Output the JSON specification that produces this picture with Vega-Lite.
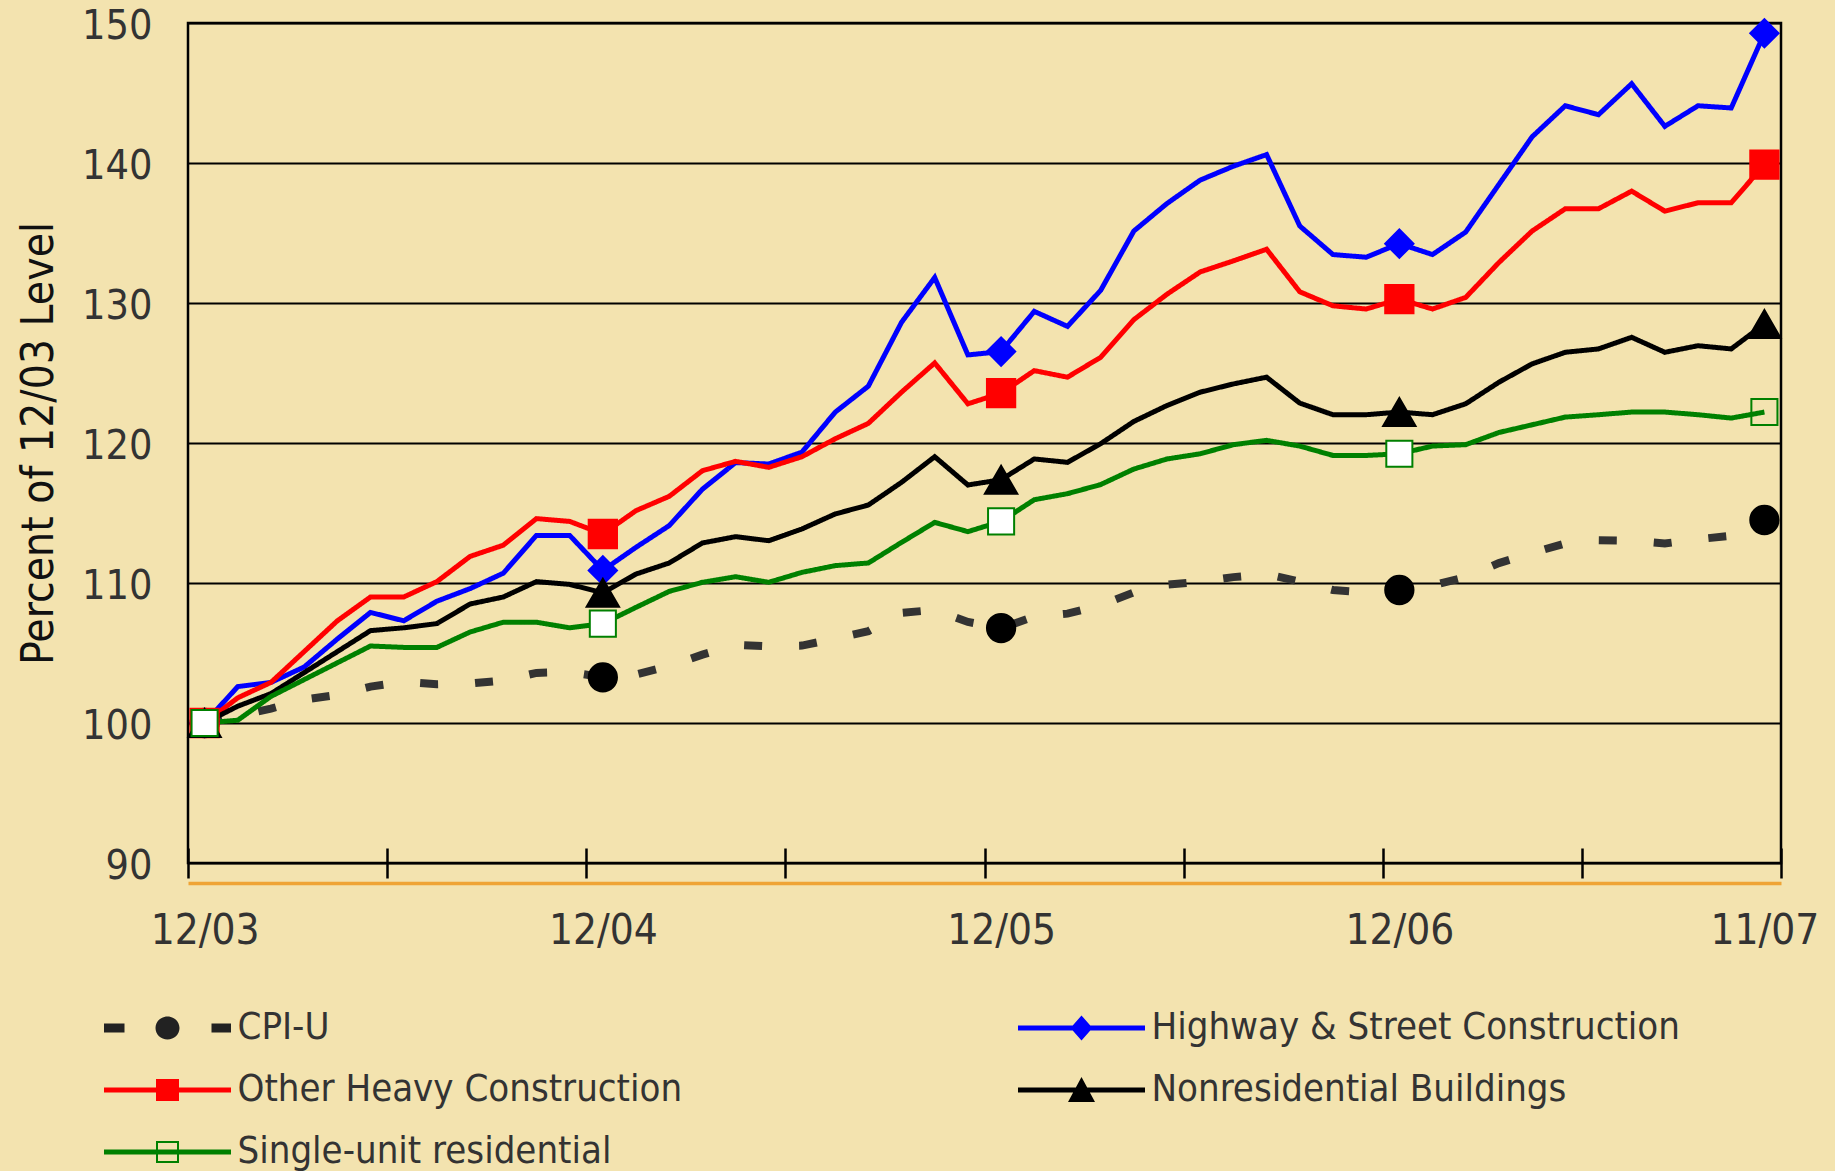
{
  "$schema": "https://vega.github.io/schema/vega-lite/v6.json",
  "width": 1593,
  "height": 840,
  "autosize": "none",
  "padding": {"left": 188, "top": 23, "right": 54, "bottom": 308},
  "background": "#F3E3AF",
  "config": {
    "font": "DejaVu Sans Condensed, Liberation Sans, sans-serif",
    "view": {"stroke": "#000000", "strokeWidth": 2.5}
  },
  "data": {"values": [
    {"series":"CPI-U","i":0,"value":100},{"series":"CPI-U","i":1,"value":100.49},{"series":"CPI-U","i":2,"value":101.03},{"series":"CPI-U","i":3,"value":101.68},{"series":"CPI-U","i":4,"value":102.01},{"series":"CPI-U","i":5,"value":102.6},{"series":"CPI-U","i":6,"value":102.93},{"series":"CPI-U","i":7,"value":102.77},{"series":"CPI-U","i":8,"value":102.82},{"series":"CPI-U","i":9,"value":103.04},{"series":"CPI-U","i":10,"value":103.58},{"series":"CPI-U","i":11,"value":103.64},
    {"series":"CPI-U","i":12,"value":103.26},{"series":"CPI-U","i":13,"value":103.47},{"series":"CPI-U","i":14,"value":104.07},{"series":"CPI-U","i":15,"value":104.88},{"series":"CPI-U","i":16,"value":105.59},{"series":"CPI-U","i":17,"value":105.48},{"series":"CPI-U","i":18,"value":105.53},{"series":"CPI-U","i":19,"value":106.02},{"series":"CPI-U","i":20,"value":106.56},{"series":"CPI-U","i":21,"value":107.87},{"series":"CPI-U","i":22,"value":108.08},{"series":"CPI-U","i":23,"value":107.22},
    {"series":"CPI-U","i":24,"value":106.78},{"series":"CPI-U","i":25,"value":107.6},{"series":"CPI-U","i":26,"value":107.81},{"series":"CPI-U","i":27,"value":108.41},{"series":"CPI-U","i":28,"value":109.33},{"series":"CPI-U","i":29,"value":109.88},{"series":"CPI-U","i":30,"value":110.09},{"series":"CPI-U","i":31,"value":110.42},{"series":"CPI-U","i":32,"value":110.63},{"series":"CPI-U","i":33,"value":110.09},{"series":"CPI-U","i":34,"value":109.5},{"series":"CPI-U","i":35,"value":109.33},
    {"series":"CPI-U","i":36,"value":109.5},{"series":"CPI-U","i":37,"value":109.83},{"series":"CPI-U","i":38,"value":110.42},{"series":"CPI-U","i":39,"value":111.42},{"series":"CPI-U","i":40,"value":112.15},{"series":"CPI-U","i":41,"value":112.83},{"series":"CPI-U","i":42,"value":113.05},{"series":"CPI-U","i":43,"value":113.02},{"series":"CPI-U","i":44,"value":112.82},{"series":"CPI-U","i":45,"value":113.13},{"series":"CPI-U","i":46,"value":113.37},{"series":"CPI-U","i":47,"value":114.5},

    {"series":"Highway & Street Construction","i":0,"value":100},{"series":"Highway & Street Construction","i":1,"value":102.6},{"series":"Highway & Street Construction","i":2,"value":102.9},{"series":"Highway & Street Construction","i":3,"value":104.0},{"series":"Highway & Street Construction","i":4,"value":106.0},{"series":"Highway & Street Construction","i":5,"value":107.9},{"series":"Highway & Street Construction","i":6,"value":107.3},{"series":"Highway & Street Construction","i":7,"value":108.7},{"series":"Highway & Street Construction","i":8,"value":109.6},{"series":"Highway & Street Construction","i":9,"value":110.7},{"series":"Highway & Street Construction","i":10,"value":113.4},{"series":"Highway & Street Construction","i":11,"value":113.4},
    {"series":"Highway & Street Construction","i":12,"value":110.9},{"series":"Highway & Street Construction","i":13,"value":112.55},{"series":"Highway & Street Construction","i":14,"value":114.1},{"series":"Highway & Street Construction","i":15,"value":116.7},{"series":"Highway & Street Construction","i":16,"value":118.6},{"series":"Highway & Street Construction","i":17,"value":118.5},{"series":"Highway & Street Construction","i":18,"value":119.35},{"series":"Highway & Street Construction","i":19,"value":122.2},{"series":"Highway & Street Construction","i":20,"value":124.06},{"series":"Highway & Street Construction","i":21,"value":128.62},{"series":"Highway & Street Construction","i":22,"value":131.82},{"series":"Highway & Street Construction","i":23,"value":126.29},
    {"series":"Highway & Street Construction","i":24,"value":126.53},{"series":"Highway & Street Construction","i":25,"value":129.4},{"series":"Highway & Street Construction","i":26,"value":128.33},{"series":"Highway & Street Construction","i":27,"value":130.9},{"series":"Highway & Street Construction","i":28,"value":135.14},{"series":"Highway & Street Construction","i":29,"value":137.11},{"series":"Highway & Street Construction","i":30,"value":138.78},{"series":"Highway & Street Construction","i":31,"value":139.77},{"series":"Highway & Street Construction","i":32,"value":140.6},{"series":"Highway & Street Construction","i":33,"value":135.5},{"series":"Highway & Street Construction","i":34,"value":133.46},{"series":"Highway & Street Construction","i":35,"value":133.27},
    {"series":"Highway & Street Construction","i":36,"value":134.24},{"series":"Highway & Street Construction","i":37,"value":133.46},{"series":"Highway & Street Construction","i":38,"value":135.07},{"series":"Highway & Street Construction","i":39,"value":138.47},{"series":"Highway & Street Construction","i":40,"value":141.87},{"series":"Highway & Street Construction","i":41,"value":144.09},{"series":"Highway & Street Construction","i":42,"value":143.45},{"series":"Highway & Street Construction","i":43,"value":145.66},{"series":"Highway & Street Construction","i":44,"value":142.62},{"series":"Highway & Street Construction","i":45,"value":144.09},{"series":"Highway & Street Construction","i":46,"value":143.93},{"series":"Highway & Street Construction","i":47,"value":149.27},

    {"series":"Other Heavy Construction","i":0,"value":100},{"series":"Other Heavy Construction","i":1,"value":101.8},{"series":"Other Heavy Construction","i":2,"value":102.9},{"series":"Other Heavy Construction","i":3,"value":105.1},{"series":"Other Heavy Construction","i":4,"value":107.3},{"series":"Other Heavy Construction","i":5,"value":109.0},{"series":"Other Heavy Construction","i":6,"value":109.0},{"series":"Other Heavy Construction","i":7,"value":110.1},{"series":"Other Heavy Construction","i":8,"value":111.9},{"series":"Other Heavy Construction","i":9,"value":112.7},{"series":"Other Heavy Construction","i":10,"value":114.6},{"series":"Other Heavy Construction","i":11,"value":114.4},
    {"series":"Other Heavy Construction","i":12,"value":113.5},{"series":"Other Heavy Construction","i":13,"value":115.17},{"series":"Other Heavy Construction","i":14,"value":116.19},{"series":"Other Heavy Construction","i":15,"value":118.02},{"series":"Other Heavy Construction","i":16,"value":118.69},{"series":"Other Heavy Construction","i":17,"value":118.26},{"series":"Other Heavy Construction","i":18,"value":119.02},{"series":"Other Heavy Construction","i":19,"value":120.3},{"series":"Other Heavy Construction","i":20,"value":121.4},{"series":"Other Heavy Construction","i":21,"value":123.63},{"series":"Other Heavy Construction","i":22,"value":125.72},{"series":"Other Heavy Construction","i":23,"value":122.8},
    {"series":"Other Heavy Construction","i":24,"value":123.56},{"series":"Other Heavy Construction","i":25,"value":125.17},{"series":"Other Heavy Construction","i":26,"value":124.7},{"series":"Other Heavy Construction","i":27,"value":126.12},{"series":"Other Heavy Construction","i":28,"value":128.81},{"series":"Other Heavy Construction","i":29,"value":130.63},{"series":"Other Heavy Construction","i":30,"value":132.22},{"series":"Other Heavy Construction","i":31,"value":133.01},{"series":"Other Heavy Construction","i":32,"value":133.84},{"series":"Other Heavy Construction","i":33,"value":130.8},{"series":"Other Heavy Construction","i":34,"value":129.8},{"series":"Other Heavy Construction","i":35,"value":129.57},
    {"series":"Other Heavy Construction","i":36,"value":130.28},{"series":"Other Heavy Construction","i":37,"value":129.57},{"series":"Other Heavy Construction","i":38,"value":130.4},{"series":"Other Heavy Construction","i":39,"value":132.89},{"series":"Other Heavy Construction","i":40,"value":135.14},{"series":"Other Heavy Construction","i":41,"value":136.73},{"series":"Other Heavy Construction","i":42,"value":136.73},{"series":"Other Heavy Construction","i":43,"value":137.99},{"series":"Other Heavy Construction","i":44,"value":136.56},{"series":"Other Heavy Construction","i":45,"value":137.16},{"series":"Other Heavy Construction","i":46,"value":137.16},{"series":"Other Heavy Construction","i":47,"value":139.89},

    {"series":"Nonresidential Buildings","i":0,"value":100},{"series":"Nonresidential Buildings","i":1,"value":101.2},{"series":"Nonresidential Buildings","i":2,"value":102.1},{"series":"Nonresidential Buildings","i":3,"value":103.6},{"series":"Nonresidential Buildings","i":4,"value":105.1},{"series":"Nonresidential Buildings","i":5,"value":106.6},{"series":"Nonresidential Buildings","i":6,"value":106.8},{"series":"Nonresidential Buildings","i":7,"value":107.1},{"series":"Nonresidential Buildings","i":8,"value":108.5},{"series":"Nonresidential Buildings","i":9,"value":109.0},{"series":"Nonresidential Buildings","i":10,"value":110.1},{"series":"Nonresidential Buildings","i":11,"value":109.9},
    {"series":"Nonresidential Buildings","i":12,"value":109.3},{"series":"Nonresidential Buildings","i":13,"value":110.64},{"series":"Nonresidential Buildings","i":14,"value":111.43},{"series":"Nonresidential Buildings","i":15,"value":112.86},{"series":"Nonresidential Buildings","i":16,"value":113.31},{"series":"Nonresidential Buildings","i":17,"value":113.02},{"series":"Nonresidential Buildings","i":18,"value":113.86},{"series":"Nonresidential Buildings","i":19,"value":114.93},{"series":"Nonresidential Buildings","i":20,"value":115.57},{"series":"Nonresidential Buildings","i":21,"value":117.19},{"series":"Nonresidential Buildings","i":22,"value":119.02},{"series":"Nonresidential Buildings","i":23,"value":117.0},
    {"series":"Nonresidential Buildings","i":24,"value":117.38},{"series":"Nonresidential Buildings","i":25,"value":118.86},{"series":"Nonresidential Buildings","i":26,"value":118.62},{"series":"Nonresidential Buildings","i":27,"value":119.95},{"series":"Nonresidential Buildings","i":28,"value":121.54},{"series":"Nonresidential Buildings","i":29,"value":122.68},{"series":"Nonresidential Buildings","i":30,"value":123.63},{"series":"Nonresidential Buildings","i":31,"value":124.22},{"series":"Nonresidential Buildings","i":32,"value":124.7},{"series":"Nonresidential Buildings","i":33,"value":122.85},{"series":"Nonresidential Buildings","i":34,"value":122.02},{"series":"Nonresidential Buildings","i":35,"value":122.02},
    {"series":"Nonresidential Buildings","i":36,"value":122.21},{"series":"Nonresidential Buildings","i":37,"value":122.02},{"series":"Nonresidential Buildings","i":38,"value":122.8},{"series":"Nonresidential Buildings","i":39,"value":124.34},{"series":"Nonresidential Buildings","i":40,"value":125.65},{"series":"Nonresidential Buildings","i":41,"value":126.48},{"series":"Nonresidential Buildings","i":42,"value":126.72},{"series":"Nonresidential Buildings","i":43,"value":127.55},{"series":"Nonresidential Buildings","i":44,"value":126.48},{"series":"Nonresidential Buildings","i":45,"value":126.95},{"series":"Nonresidential Buildings","i":46,"value":126.72},{"series":"Nonresidential Buildings","i":47,"value":128.5},

    {"series":"Single-unit residential","i":0,"value":100},{"series":"Single-unit residential","i":1,"value":100.2},{"series":"Single-unit residential","i":2,"value":101.9},{"series":"Single-unit residential","i":3,"value":103.1},{"series":"Single-unit residential","i":4,"value":104.3},{"series":"Single-unit residential","i":5,"value":105.5},{"series":"Single-unit residential","i":6,"value":105.4},{"series":"Single-unit residential","i":7,"value":105.4},{"series":"Single-unit residential","i":8,"value":106.5},{"series":"Single-unit residential","i":9,"value":107.2},{"series":"Single-unit residential","i":10,"value":107.2},{"series":"Single-unit residential","i":11,"value":106.8},
    {"series":"Single-unit residential","i":12,"value":107.1},{"series":"Single-unit residential","i":13,"value":108.26},{"series":"Single-unit residential","i":14,"value":109.4},{"series":"Single-unit residential","i":15,"value":110.05},{"series":"Single-unit residential","i":16,"value":110.45},{"series":"Single-unit residential","i":17,"value":110.05},{"series":"Single-unit residential","i":18,"value":110.76},{"series":"Single-unit residential","i":19,"value":111.24},{"series":"Single-unit residential","i":20,"value":111.43},{"series":"Single-unit residential","i":21,"value":112.9},{"series":"Single-unit residential","i":22,"value":114.33},{"series":"Single-unit residential","i":23,"value":113.67},
    {"series":"Single-unit residential","i":24,"value":114.4},{"series":"Single-unit residential","i":25,"value":115.95},{"series":"Single-unit residential","i":26,"value":116.38},{"series":"Single-unit residential","i":27,"value":117.03},{"series":"Single-unit residential","i":28,"value":118.14},{"series":"Single-unit residential","i":29,"value":118.86},{"series":"Single-unit residential","i":30,"value":119.23},{"series":"Single-unit residential","i":31,"value":119.88},{"series":"Single-unit residential","i":32,"value":120.19},{"series":"Single-unit residential","i":33,"value":119.78},{"series":"Single-unit residential","i":34,"value":119.11},{"series":"Single-unit residential","i":35,"value":119.11},
    {"series":"Single-unit residential","i":36,"value":119.23},{"series":"Single-unit residential","i":37,"value":119.78},{"series":"Single-unit residential","i":38,"value":119.88},{"series":"Single-unit residential","i":39,"value":120.75},{"series":"Single-unit residential","i":40,"value":121.3},{"series":"Single-unit residential","i":41,"value":121.85},{"series":"Single-unit residential","i":42,"value":122.02},{"series":"Single-unit residential","i":43,"value":122.21},{"series":"Single-unit residential","i":44,"value":122.21},{"series":"Single-unit residential","i":45,"value":122.02},{"series":"Single-unit residential","i":46,"value":121.78},{"series":"Single-unit residential","i":47,"value":122.21}
  ]},
  "layer": [
    {
      "mark": {"type": "line", "strokeCap": "butt"},
      "encoding": {
        "x": {
          "field": "i", "type": "quantitative",
          "scale": {"domain": [-0.5, 47.5], "nice": false, "zero": false},
          "axis": {
            "orient": "bottom",
            "title": null,
            "values": [-0.5, 0, 5.5, 11.5, 12, 17.5, 23.5, 24, 29.5, 35.5, 36, 41.5, 47, 47.5],
            "domain": false,
            "grid": false,
            "ticks": true,
            "tickSize": 30,
            "tickWidth": 2.5,
            "tickColor": "#000000",
            "tickOpacity": {"condition": {"test": "datum.value % 1 !== 0", "value": 1}, "value": 0},
            "offset": -15,
            "labelExpr": "datum.value === 0 ? '12/03' : datum.value === 12 ? '12/04' : datum.value === 24 ? '12/05' : datum.value === 36 ? '12/06' : datum.value === 47 ? '11/07' : ''",
            "labelFont": "DejaVu Sans Condensed, Liberation Sans, sans-serif",
            "labelFontSize": 42,
            "labelColor": "#333333",
            "labelPadding": 32,
            "labelOverlap": false,
            "labelFlush": false,
            "labelBound": false
          }
        },
        "y": {
          "field": "value", "type": "quantitative",
          "scale": {"domain": [90, 150], "nice": false, "zero": false},
          "axis": {
            "values": [90, 100, 110, 120, 130, 140, 150],
            "grid": true,
            "gridColor": "#000000",
            "gridWidth": 2,
            "domain": false,
            "ticks": false,
            "tickSize": 0,
            "labelFont": "DejaVu Sans Condensed, Liberation Sans, sans-serif",
            "labelFontSize": 41,
            "labelColor": "#333333",
            "labelPadding": 36,
            "labelOffset": 3,
            "title": "Percent of 12/03 Level",
            "titleFont": "DejaVu Sans Condensed, Liberation Sans, sans-serif",
            "titleFontSize": 44,
            "titleFontWeight": "normal",
            "titleColor": "#111111",
            "titleAngle": -90,
            "titleX": -136,
            "titleY": 420,
            "titleAlign": "center",
            "titleBaseline": "alphabetic"
          }
        },
        "color": {
          "field": "series", "type": "nominal",
          "scale": {
            "domain": ["CPI-U", "Other Heavy Construction", "Single-unit residential", "Highway & Street Construction", "Nonresidential Buildings"],
            "range": ["#333333", "#FF0000", "#008000", "#0000FF", "#000000"]
          },
          "legend": {
            "title": null,
            "orient": "none",
            "legendX": -84,
            "legendY": 986,
            "columns": 2,
            "columnPadding": 335,
            "rowPadding": 24,
            "padding": 0,
            "symbolSize": 400,
            "symbolStrokeWidth": 0,
            "symbolOffset": 44.5,
            "labelOffset": 51,
            "labelFont": "DejaVu Sans Condensed, Liberation Sans, sans-serif",
            "labelFontSize": 38,
            "labelColor": "#333333",
            "labelLimit": 1000,
            "encode": {
              "symbols": {
                "update": {
                  "shape": {"signal": "datum.value === 'CPI-U' ? 'M-6.35,-0.45H-4.3V0.45H-6.35Z M4.4,-0.45H6.35V0.45H4.4Z M-1.2,0A1.2,1.15 0 1,0 1.2,0A1.2,1.15 0 1,0 -1.2,0Z' : datum.value === 'Highway & Street Construction' ? 'M-6.35,-0.25H6.35V0.25H-6.35Z M0,-1.25L1.1,0L0,1.25L-1.1,0Z' : datum.value === 'Other Heavy Construction' ? 'M-6.35,-0.25H6.35V0.25H-6.35Z M-1.15,-1.1H1.15V1.1H-1.15Z' : datum.value === 'Nonresidential Buildings' ? 'M-6.35,-0.25H6.35V0.25H-6.35Z M0,-1.3L1.35,1.2H-1.35Z' : 'M-6.35,-0.25H6.35V0.25H-6.35Z M-1.15,-1.1H1.15V1.1H-1.15Z M-0.95,-0.9V0.9H0.95V-0.9Z'"},
                  "fill": {"signal": "datum.value === 'CPI-U' ? '#222222' : scale('color', datum.value)"},
                  "stroke": {"value": "transparent"},
                  "strokeWidth": {"value": 0},
                  "size": {"value": 400},
                  "opacity": {"value": 1},
                  "fillOpacity": {"value": 1}
                }
              }
            }
          }
        },
        "strokeDash": {"condition": {"test": "datum.series === 'CPI-U'", "value": [18, 37]}, "value": [1, 0]},
        "strokeWidth": {"condition": {"test": "datum.series === 'CPI-U'", "value": 8}, "value": 5}
      }
    },
    {
      "transform": [{"filter": "datum.i % 12 === 0 || datum.i === 47"}],
      "mark": {"type": "point", "filled": true, "opacity": 1, "strokeWidth": 2},
      "encoding": {
        "x": {
          "field": "i", "type": "quantitative",
          "axis": {
            "orient": "bottom",
            "offset": 20,
            "title": null,
            "domain": true,
            "domainColor": "#EFA435",
            "domainWidth": 3.5,
            "ticks": false,
            "labels": false,
            "grid": false
          }
        },
        "y": {"field": "value", "type": "quantitative"},
        "shape": {
          "condition": [
            {"test": "datum.series === 'CPI-U'", "value": "circle"},
            {"test": "datum.series === 'Highway & Street Construction'", "value": "diamond"},
            {"test": "datum.series === 'Nonresidential Buildings'", "value": "triangle-up"}
          ],
          "value": "square"
        },
        "fill": {
          "condition": [
            {"test": "datum.series === 'Highway & Street Construction'", "value": "#0000FF"},
            {"test": "datum.series === 'Other Heavy Construction'", "value": "#FF0000"},
            {"test": "datum.series === 'Single-unit residential'", "value": "#FFFFFF"}
          ],
          "value": "#000000"
        },
        "stroke": {
          "condition": [
            {"test": "datum.series === 'Highway & Street Construction'", "value": "#0000FF"},
            {"test": "datum.series === 'Other Heavy Construction'", "value": "#FF0000"},
            {"test": "datum.series === 'Single-unit residential'", "value": "#008000"}
          ],
          "value": "#000000"
        },
        "fillOpacity": {"condition": {"test": "datum.i === 47 && datum.series === 'Single-unit residential'", "value": 0}, "value": 1},
        "size": {"condition": [{"test": "datum.series === 'Nonresidential Buildings'", "value": 1050}, {"test": "datum.series === 'Single-unit residential'", "value": 680}], "value": 800}
      }
    }
  ],
  "resolve": {"axis": {"x": "independent"}}
}
